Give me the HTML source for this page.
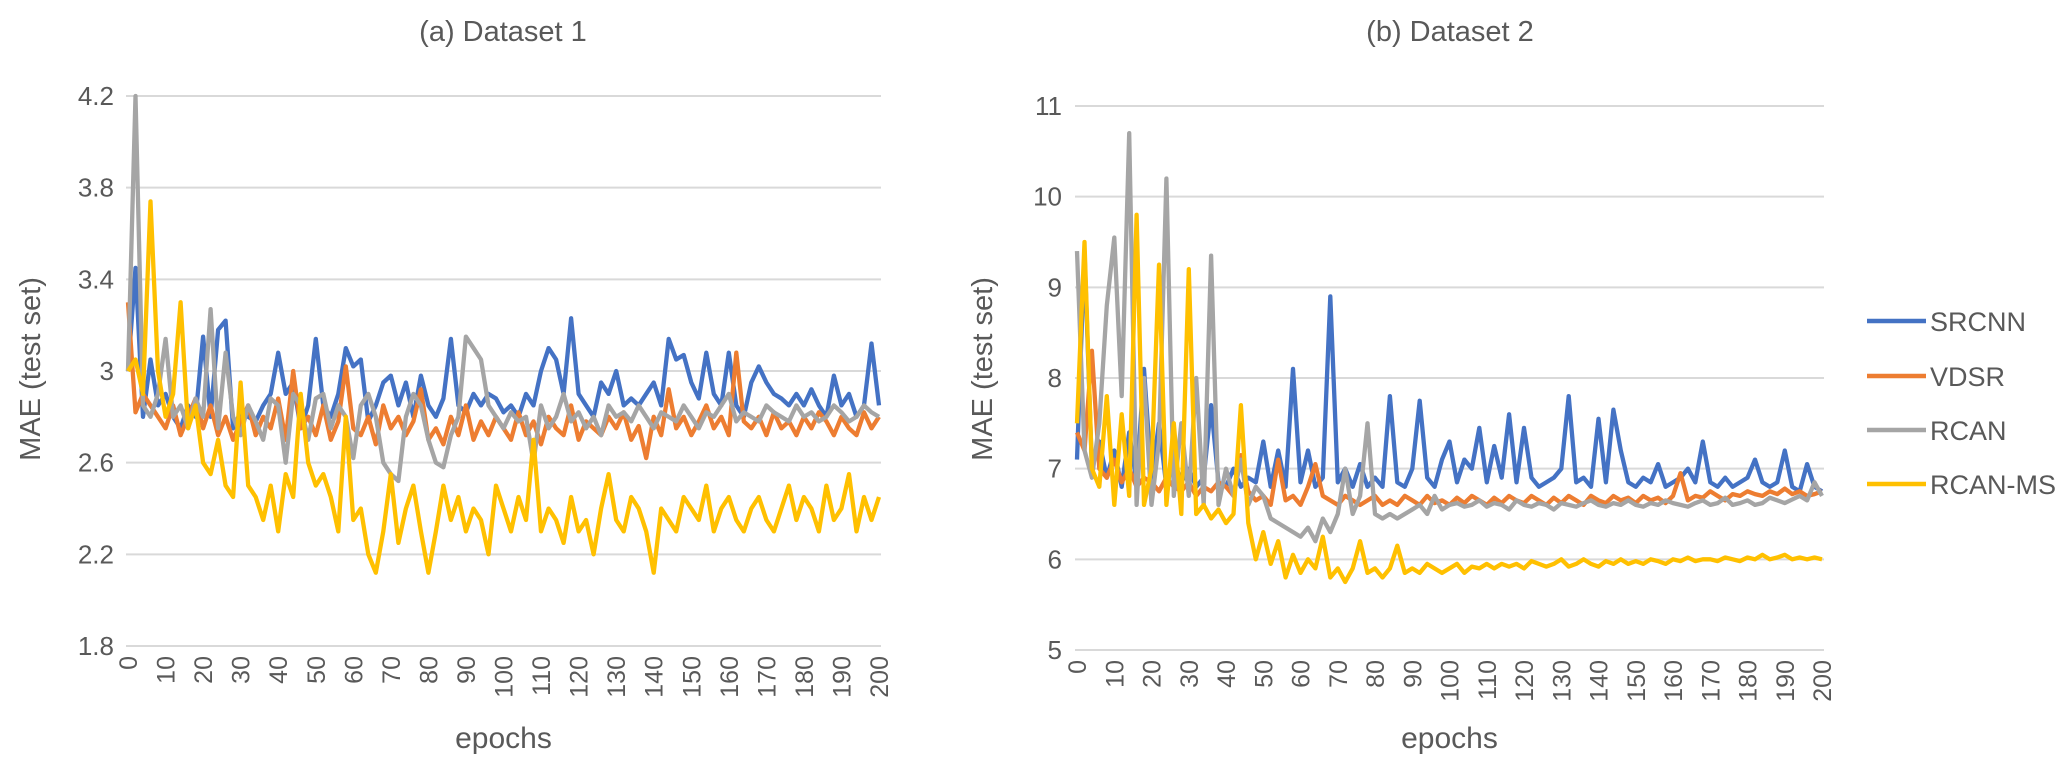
<!DOCTYPE html>
<html><head><meta charset="utf-8">
<style>
html,body{margin:0;padding:0;background:#fff;}
svg{display:block;font-family:"Liberation Sans",sans-serif;}
</style></head>
<body>
<svg id="c" width="2067" height="774" viewBox="0 0 2067 774"></svg>
<script>
const xTicks=[0,10,20,30,40,50,60,70,80,90,100,110,120,130,140,150,160,170,180,190,200];
const yTicks1=[1.8,2.2,2.6,3,3.4,3.8,4.2];
const yTicks2=[5,6,7,8,9,10,11];
const seriesNames=["SRCNN","VDSR","RCAN","RCAN-MS"];
const srcnn1=[3.0,3.45,2.8,3.05,2.85,2.9,2.8,2.75,2.85,2.8,3.15,2.8,3.18,3.22,2.75,2.82,2.8,2.78,2.85,2.9,3.08,2.9,2.95,2.75,2.85,3.14,2.85,2.8,2.9,3.1,3.02,3.05,2.78,2.85,2.95,2.98,2.85,2.95,2.8,2.98,2.85,2.8,2.88,3.14,2.85,2.82,2.9,2.85,2.9,2.88,2.82,2.85,2.8,2.9,2.85,3.0,3.1,3.05,2.9,3.23,2.9,2.85,2.8,2.95,2.9,3.0,2.85,2.88,2.85,2.9,2.95,2.85,3.14,3.05,3.07,2.95,2.88,3.08,2.9,2.85,3.08,2.85,2.8,2.95,3.02,2.95,2.9,2.88,2.85,2.9,2.85,2.92,2.85,2.8,2.98,2.85,2.9,2.8,2.85,3.12,2.85];
const vdsr1=[3.3,2.82,2.9,2.85,2.8,2.75,2.85,2.72,2.8,2.88,2.75,2.85,2.72,2.8,2.7,2.78,2.85,2.72,2.8,2.75,2.88,2.7,3.0,2.75,2.8,2.72,2.85,2.7,2.78,3.02,2.75,2.72,2.8,2.68,2.85,2.75,2.8,2.72,2.78,2.92,2.7,2.75,2.68,2.8,2.72,2.85,2.7,2.78,2.72,2.8,2.75,2.7,2.82,2.72,2.78,2.68,2.8,2.75,2.72,2.85,2.7,2.78,2.75,2.72,2.8,2.75,2.82,2.7,2.76,2.62,2.8,2.72,2.92,2.75,2.8,2.72,2.78,2.85,2.75,2.8,2.72,3.08,2.78,2.75,2.8,2.72,2.82,2.75,2.78,2.72,2.8,2.75,2.82,2.78,2.72,2.8,2.75,2.72,2.82,2.75,2.8];
const rcan1=[3.0,4.2,2.85,2.8,2.9,3.14,2.8,2.85,2.75,2.88,2.8,3.27,2.75,3.08,2.8,2.72,2.85,2.78,2.7,2.88,2.85,2.6,2.9,2.85,2.7,2.88,2.9,2.75,2.85,2.8,2.62,2.85,2.9,2.8,2.6,2.55,2.52,2.8,2.9,2.85,2.7,2.6,2.58,2.72,2.8,3.15,3.1,3.05,2.85,2.8,2.75,2.82,2.78,2.8,2.6,2.85,2.75,2.8,2.9,2.78,2.82,2.75,2.8,2.72,2.85,2.8,2.82,2.78,2.85,2.8,2.75,2.82,2.8,2.78,2.85,2.8,2.75,2.82,2.8,2.85,2.9,2.78,2.82,2.8,2.78,2.85,2.82,2.8,2.78,2.85,2.8,2.82,2.78,2.8,2.85,2.82,2.78,2.8,2.85,2.82,2.8];
const rcanms1=[3.0,3.05,2.9,3.74,3.0,2.8,2.9,3.3,2.75,2.85,2.6,2.55,2.7,2.5,2.45,2.95,2.5,2.45,2.35,2.5,2.3,2.55,2.45,2.9,2.6,2.5,2.55,2.45,2.3,2.8,2.35,2.4,2.2,2.12,2.3,2.55,2.25,2.4,2.5,2.3,2.12,2.3,2.5,2.35,2.45,2.3,2.4,2.35,2.2,2.5,2.4,2.3,2.45,2.35,2.7,2.3,2.4,2.35,2.25,2.45,2.3,2.35,2.2,2.4,2.55,2.35,2.3,2.45,2.4,2.3,2.12,2.4,2.35,2.3,2.45,2.4,2.35,2.5,2.3,2.4,2.45,2.35,2.3,2.4,2.45,2.35,2.3,2.4,2.5,2.35,2.45,2.4,2.3,2.5,2.35,2.4,2.55,2.3,2.45,2.35,2.45];
const srcnn2=[7.1,9.4,7.0,7.3,6.9,7.2,6.8,7.4,6.85,8.1,6.9,7.5,6.8,7.1,6.85,7.0,6.8,6.9,7.7,6.85,6.8,7.0,6.8,6.9,6.85,7.3,6.8,7.2,6.8,8.1,6.85,7.2,6.8,6.9,8.9,6.85,7.0,6.8,7.05,6.8,6.9,6.8,7.8,6.85,6.8,7.0,7.75,6.9,6.8,7.1,7.3,6.85,7.1,7.0,7.45,6.85,7.25,6.9,7.6,6.85,7.45,6.9,6.8,6.85,6.9,7.0,7.8,6.85,6.9,6.8,7.55,6.85,7.65,7.2,6.85,6.8,6.9,6.85,7.05,6.8,6.85,6.9,7.0,6.85,7.3,6.85,6.8,6.9,6.8,6.85,6.9,7.1,6.85,6.8,6.85,7.2,6.8,6.75,7.05,6.8,6.75];
const vdsr2=[7.4,7.2,8.3,7.0,6.9,7.1,6.85,7.0,6.8,6.9,6.85,6.75,6.9,6.8,6.75,6.85,6.7,6.8,6.75,6.85,6.8,6.7,7.15,6.75,6.65,6.7,6.6,7.1,6.65,6.7,6.6,6.8,7.05,6.7,6.65,6.6,6.7,6.65,6.6,6.65,6.7,6.6,6.65,6.6,6.7,6.65,6.6,6.7,6.62,6.65,6.6,6.68,6.62,6.7,6.65,6.6,6.68,6.62,6.7,6.65,6.62,6.7,6.65,6.6,6.68,6.62,6.7,6.65,6.6,6.7,6.65,6.62,6.7,6.65,6.68,6.62,6.7,6.65,6.68,6.62,6.7,6.95,6.65,6.7,6.68,6.75,6.7,6.65,6.72,6.7,6.75,6.72,6.7,6.75,6.72,6.78,6.72,6.75,6.7,6.72,6.75];
const rcan2=[9.4,7.2,6.9,7.5,8.8,9.55,7.8,10.7,6.6,8.0,6.6,7.3,10.2,6.7,7.5,6.7,8.0,6.6,9.35,6.6,7.0,6.7,7.1,6.6,6.8,6.7,6.45,6.4,6.35,6.3,6.25,6.35,6.2,6.45,6.3,6.5,7.0,6.5,6.7,7.5,6.5,6.45,6.5,6.45,6.5,6.55,6.6,6.5,6.7,6.55,6.6,6.62,6.58,6.6,6.65,6.58,6.62,6.6,6.55,6.65,6.6,6.58,6.62,6.6,6.55,6.62,6.6,6.58,6.62,6.65,6.6,6.58,6.62,6.6,6.65,6.6,6.58,6.62,6.6,6.65,6.62,6.6,6.58,6.62,6.65,6.6,6.62,6.68,6.6,6.62,6.65,6.6,6.62,6.68,6.65,6.62,6.66,6.7,6.65,6.85,6.7];
const rcanms2=[7.5,9.5,7.0,6.8,7.8,6.6,7.6,6.7,9.8,6.6,7.0,9.25,6.6,7.5,6.5,9.2,6.5,6.6,6.45,6.55,6.4,6.5,7.7,6.4,6.0,6.3,5.95,6.2,5.8,6.05,5.85,6.0,5.9,6.25,5.8,5.9,5.75,5.9,6.2,5.85,5.9,5.8,5.9,6.15,5.85,5.9,5.85,5.95,5.9,5.85,5.9,5.95,5.85,5.92,5.9,5.95,5.9,5.95,5.92,5.95,5.9,5.98,5.95,5.92,5.95,6.0,5.92,5.95,6.0,5.95,5.92,5.98,5.95,6.0,5.95,5.98,5.95,6.0,5.98,5.95,6.0,5.98,6.02,5.98,6.0,6.0,5.98,6.02,6.0,5.98,6.02,6.0,6.05,6.0,6.02,6.05,6.0,6.02,6.0,6.02,6.0];

const colors=["#4472C4","#ED7D31","#A5A5A5","#FFC000"];
const NS="http://www.w3.org/2000/svg";
const svg=document.getElementById('c');
function mk(tag,attrs,parent){const e=document.createElementNS(NS,tag);for(const k in attrs)e.setAttribute(k,attrs[k]);(parent||svg).appendChild(e);return e;}

function drawChart(cfg){
  const g=mk('g',{});
  
  
  const ymin=cfg.yTicks[0],ymax=cfg.yTicks[cfg.yTicks.length-1];
  const yS=v=>cfg.yBot-(v-ymin)/(ymax-ymin)*(cfg.yBot-cfg.yTop);
  const xS=v=>cfg.x0+v/200*(cfg.x1-cfg.x0);
  cfg.yTicks.forEach(t=>{
    const l=mk('line',{x1:cfg.gl,x2:cfg.gr,y1:yS(t),y2:yS(t),stroke:'#d9d9d9','stroke-width':2},g);
    
    
    const tx=mk('text',{x:cfg.labelX,y:yS(t)+9,'text-anchor':'end','font-size':26,fill:'#595959'},g);
    tx.textContent=String(t);
    
    
  });
  xTicks.forEach(t=>{
    const x=xS(t);
    const tx=mk('text',{x:0,y:0,'text-anchor':'end','font-size':25,fill:'#595959',transform:`translate(${x+9},${cfg.xLabY}) rotate(-90)`},g);
    tx.textContent=String(t);
    
    
  });
  cfg.series.forEach((arr,i)=>{
    const n=arr.length;
    const pts=arr.map((v,j)=>xS(j*200/(n-1)).toFixed(1)+','+yS(v).toFixed(1)).join(' ');
    const p=mk('polyline',{points:pts,fill:'none',stroke:colors[i],'stroke-width':4.3,'stroke-linejoin':'round'},g);
    
    
  });
  const tt=mk('text',{x:cfg.titleX,y:41,'text-anchor':'middle','font-size':29,fill:'#595959'},g);
  tt.textContent=cfg.title;
  
  
  const yt=mk('text',{x:0,y:0,'text-anchor':'middle','font-size':29,fill:'#595959',transform:`translate(${cfg.yTitleX},369) rotate(-90)`},g);
  yt.textContent='MAE (test set)';
  
  
  const xt=mk('text',{x:(cfg.x0+cfg.x1)/2,y:748,'text-anchor':'middle','font-size':30,fill:'#595959'},g);
  xt.textContent='epochs';
  
  
}
drawChart({name:'chart-dataset-1',title:'(a) Dataset 1',titleX:503,yTicks:yTicks1,yTop:96,yBot:646,x0:128,x1:879,gl:126,gr:881,labelX:114,xLabY:656,yTitleX:40,series:[srcnn1,vdsr1,rcan1,rcanms1]});
drawChart({name:'chart-dataset-2',title:'(b) Dataset 2',titleX:1450,yTicks:yTicks2,yTop:106,yBot:650,x0:1077,x1:1822,gl:1075,gr:1824,labelX:1062,xLabY:660,yTitleX:992,series:[srcnn2,vdsr2,rcan2,rcanms2]});

const lg=mk('g',{});


const legY=[321,376,430,484];
seriesNames.forEach((n,i)=>{
  const e=mk('g',{},lg);
  
  
  mk('line',{x1:1867,x2:1926,y1:legY[i],y2:legY[i],stroke:colors[i],'stroke-width':4.5},e);
  const t=mk('text',{x:1930,y:legY[i]+10,'font-size':27,fill:'#595959'},e);
  t.textContent=n;
});
</script>
</body></html>
